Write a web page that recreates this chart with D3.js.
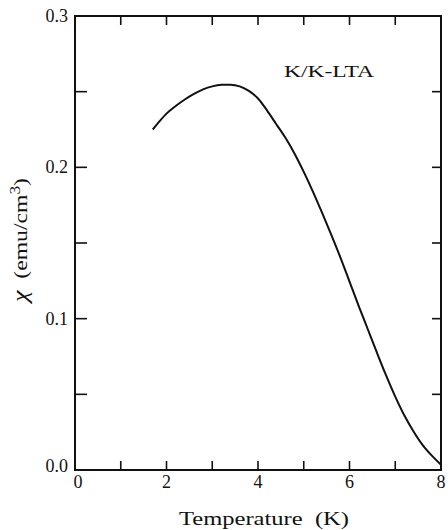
<!DOCTYPE html>
<html>
<head>
<meta charset="utf-8">
<script src="https://cdn.jsdelivr.net/npm/d3@7"></script>
<style>
  html, body { margin: 0; padding: 0; background: #fff; }
  svg { display: block; }
  text { font-family: "Liberation Serif", "DejaVu Serif", serif; fill: #111; white-space: pre; }
</style>
</head>
<body>
<svg id="chart" width="448" height="530"></svg>
<script>
// ---- data ----
const temperature = [1.70,1.85,2.00,2.20,2.40,2.60,2.80,3.00,3.20,3.40,3.60,3.80,4.00,4.20,4.40,4.60,4.80,5.00,5.20,5.40,5.60,5.80,6.00,6.20,6.40,6.60,6.80,7.00,7.20,7.40,7.60,7.80,8.00];
const chi = [0.225,0.2305,0.2355,0.2405,0.2448,0.2485,0.2515,0.2535,0.2545,0.2546,0.2535,0.2505,0.2455,0.2375,0.2285,0.2195,0.2090,0.1970,0.1840,0.1700,0.1555,0.1405,0.1245,0.1085,0.0930,0.0775,0.0625,0.0485,0.0360,0.0255,0.0165,0.0095,0.0035];
const xTickLabels = [0, 2, 4, 6, 8];
const xTicksAll = [1, 2, 3, 4, 5, 6, 7];
const yTickLabels = [0.0, 0.1, 0.2, 0.3];
const yTicksAll = [0.05, 0.1, 0.15, 0.2, 0.25];
const sampleLabel = "K/K-LTA";
const xTitle = "Temperature  (K)";
const yTitleSymbol = "\u03C7";
const yTitleMain = "  (emu/cm";
const yTitleSup = "3";

// ---- layout ----
const L = 75, R = 441, T = 16, B = 470;
const svg = d3.select("#chart");
const x = d3.scaleLinear().domain([0, 8]).range([L, R]);
const y = d3.scaleLinear().domain([0, 0.3]).range([B, T]);

// frame
svg.append("rect")
  .attr("x", L).attr("y", T).attr("width", R - L).attr("height", B - T)
  .attr("fill", "none").attr("stroke", "#111").attr("stroke-width", 2);

// inward ticks
const g = svg.append("g").attr("stroke", "#111").attr("stroke-width", 1.6);
g.selectAll(".tb").data(xTicksAll).enter().append("line")
  .attr("x1", d => x(d)).attr("x2", d => x(d))
  .attr("y1", B).attr("y2", B - 9);
g.selectAll(".tt").data(xTicksAll).enter().append("line")
  .attr("x1", d => x(d)).attr("x2", d => x(d))
  .attr("y1", T).attr("y2", T + 9);
g.selectAll(".tl").data(yTicksAll).enter().append("line")
  .attr("x1", L).attr("x2", L + 12)
  .attr("y1", d => y(d)).attr("y2", d => y(d));
g.selectAll(".tr").data(yTicksAll).enter().append("line")
  .attr("x1", R).attr("x2", R - 9)
  .attr("y1", d => y(d)).attr("y2", d => y(d));

// x tick labels
svg.selectAll(".xl").data(xTickLabels).enter().append("text")
  .attr("x", d => x(d) + (d === 0 ? 3 : 0))
  .attr("y", B + 18)
  .attr("text-anchor", "middle")
  .attr("font-size", 18)
  .text(d => d3.format("d")(d));

// y tick labels
svg.selectAll(".yl").data(yTickLabels).enter().append("text")
  .attr("x", 68)
  .attr("y", d => d === 0 ? B + 2 : y(d) + 6)
  .attr("text-anchor", "end")
  .attr("font-size", 18)
  .text(d => d3.format(".1f")(d));

// axis titles
svg.append("text")
  .attr("x", 264).attr("y", 525)
  .attr("text-anchor", "middle")
  .attr("font-size", 19)
  .attr("textLength", 170).attr("lengthAdjust", "spacingAndGlyphs")
  .text(xTitle);

const yt = svg.append("text")
  .attr("transform", "translate(27,240) rotate(-90)")
  .attr("text-anchor", "middle")
  .attr("font-size", 19)
  .attr("textLength", 124).attr("lengthAdjust", "spacingAndGlyphs");
yt.append("tspan").attr("font-style", "italic").attr("font-size", 21).text(yTitleSymbol);
yt.append("tspan").text(yTitleMain);
yt.append("tspan").attr("font-size", 14).attr("dy", -7).text(yTitleSup);
yt.append("tspan").attr("dy", 7).text(")");

// sample label
svg.append("text")
  .attr("x", 284).attr("y", 77)
  .attr("font-size", 16)
  .attr("textLength", 90).attr("lengthAdjust", "spacingAndGlyphs")
  .text(sampleLabel);

// curve
const pts = temperature.map((t, i) => [t, chi[i]]);
const line = d3.line().x(d => x(d[0])).y(d => y(d[1])).curve(d3.curveMonotoneX);
svg.append("path")
  .attr("d", line(pts))
  .attr("fill", "none").attr("stroke", "#111").attr("stroke-width", 2);
</script>
</body>
</html>
